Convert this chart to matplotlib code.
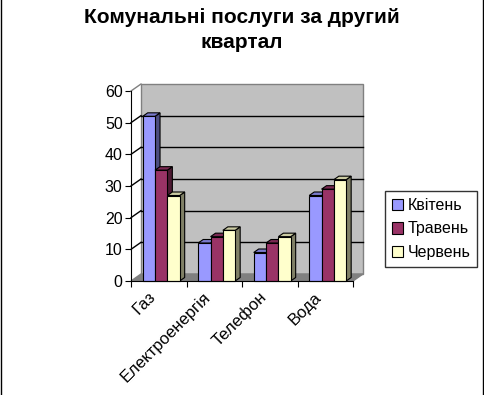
import matplotlib.pyplot as plt
from matplotlib.patches import Polygon, Patch, Rectangle
from matplotlib.lines import Line2D

plt.rcParams['font.family'] = ['Liberation Sans', 'DejaVu Sans']

title = "Комунальні послуги за другий\nквартал"
categories = ["Газ", "Електроенергія", "Телефон", "Вода"]
months = ["Квітень", "Травень", "Червень"]
kvit = [52, 12, 9, 27]
trav = [35, 14, 12, 29]
cherv = [27, 16, 14, 32]
colors = ["#9999FF", "#993366", "#FFFFCC"]
side_colors = ["#4D4D80", "#4D1A33", "#808066"]
top_colors = ["#7A7ACC", "#7A2952", "#CCCCA3"]

W, H = 484, 395
fig = plt.figure(figsize=(W / 100, H / 100), dpi=100)
ax = fig.add_axes([131 / W, 1 - 281 / H, 222 / W, 190 / H])
ax.set_xlim(0, 4)
ax.set_ylim(0, 60)

# data units per pixel
px = 4 / 222
py = 60 / 190
wdx, wdy = 10 * px, 7 * py      # wall depth
bdx, bdy = 5 * px, 3.5 * py     # bar depth

# back wall and floor
ax.add_patch(Rectangle((wdx, wdy), 4, 60, facecolor="#C0C0C0",
                       edgecolor="#808080", lw=1, clip_on=False, zorder=1))
ax.add_patch(Polygon([(0, 0), (4, 0), (4 + wdx, wdy), (wdx, wdy)],
                     facecolor="#808080", edgecolor="#808080", lw=1,
                     clip_on=False, zorder=2))
ax.plot([0, wdx], [60, 60 + wdy], color="#808080", lw=1, clip_on=False, zorder=2)

# gridlines
for v in range(10, 60, 10):
    ax.plot([wdx, 4 + wdx], [v + wdy, v + wdy], color="black", lw=1,
            clip_on=False, zorder=2)
    ax.plot([0, wdx], [v, v + wdy], color="black", lw=1, clip_on=False, zorder=2)

# bars
bw = 0.222
z = 3
for c in range(len(categories)):
    for i, vals in enumerate([kvit, trav, cherv]):
        h = vals[c]
        x0 = c + 0.211 + i * bw
        x1 = x0 + bw
        ax.add_patch(Polygon([(x1, 0), (x1 + bdx, bdy), (x1 + bdx, h + bdy), (x1, h)],
                             facecolor=side_colors[i], edgecolor="black", lw=0.8,
                             clip_on=False, zorder=z))
        ax.add_patch(Polygon([(x0, h), (x1, h), (x1 + bdx, h + bdy), (x0 + bdx, h + bdy)],
                             facecolor=top_colors[i], edgecolor="black", lw=0.8,
                             clip_on=False, zorder=z))
        ax.add_patch(Rectangle((x0, 0), bw, h, facecolor=colors[i],
                               edgecolor="black", lw=0.8, clip_on=False, zorder=z))
        z += 1

for s in ["top", "right"]:
    ax.spines[s].set_visible(False)
for s in ["left", "bottom"]:
    ax.spines[s].set_zorder(50)
ax.set_facecolor("none")
ax.set_yticks(range(0, 61, 10))
ax.tick_params(axis="y", labelsize=11.5, length=4, pad=2)
ax.set_xticks(range(5))
ax.set_xticklabels([])
ax.tick_params(axis="x", length=4)
ax.set_xticks([c + 0.3 for c in range(4)], minor=True)
ax.set_xticklabels(categories, minor=True, rotation=45, ha="right",
                   rotation_mode="anchor", fontsize=12)
ax.tick_params(axis="x", which="minor", length=0, pad=6)

fig.text(0.5, 1 - 30 / H, title, ha="center", va="center", fontsize=15,
         fontweight="bold", linespacing=1.4)

handles = [Patch(facecolor=col, edgecolor="black", lw=0.8) for col in colors]
leg = fig.legend(handles, months, loc="center", bbox_to_anchor=(431 / W, 1 - 229 / H),
                 fontsize=11.5, frameon=True, fancybox=False, handlelength=0.7,
                 handleheight=0.7, handletextpad=0.3, labelspacing=0.55,
                 borderpad=0.4, borderaxespad=0, edgecolor="black")
leg.get_frame().set_linewidth(1)

fig.add_artist(Line2D([0.5 / W, 0.5 / W], [0, 1], color="black", lw=1))
fig.add_artist(Line2D([1 - 1.5 / W, 1 - 1.5 / W], [0, 1], color="black", lw=1))

fig.savefig("out.png", dpi=100)
